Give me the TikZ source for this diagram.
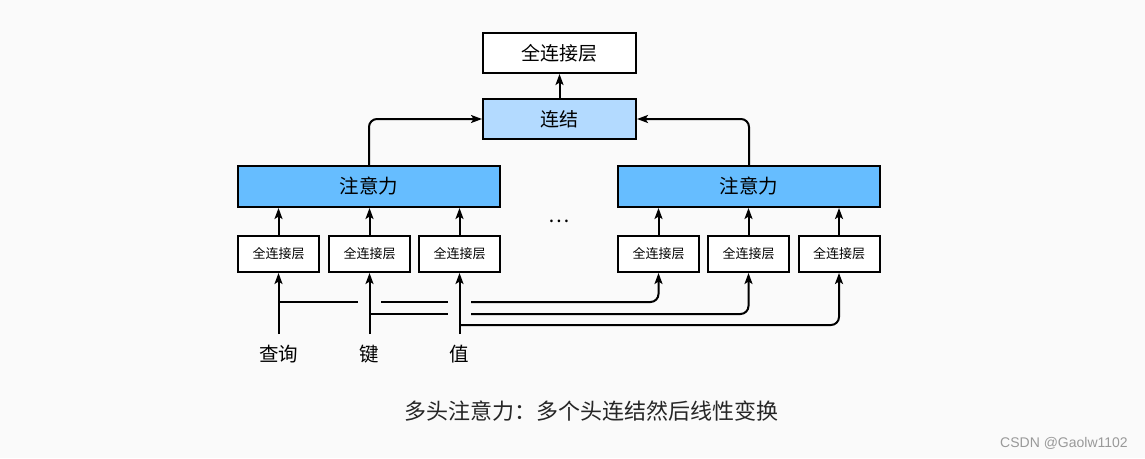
\documentclass[tikz,border=0pt]{standalone}
\usepackage{fontspec}
\setmainfont{Noto Sans CJK SC}
\newfontfamily\wmfont{Liberation Sans}
\usetikzlibrary{arrows.meta}
\definecolor{bgc}{HTML}{FAFAFA}
\definecolor{attc}{HTML}{66BDFF}
\definecolor{catc}{HTML}{B3DAFF}
\begin{document}
\begin{tikzpicture}[x=1pt,y=-1pt,
  box/.style={draw=black,line width=2pt,inner sep=0pt,text=black},
  bigbox/.style={box,minimum width=153pt,minimum height=40pt,font=\fontsize{19}{19}\selectfont},
  attbox/.style={box,fill=attc,minimum width=262pt,minimum height=41pt,font=\fontsize{19.5}{19.5}\selectfont},
  fcbox/.style={box,fill=white,minimum width=81pt,minimum height=36pt,font=\fontsize{13}{13}\selectfont},
  arr/.style={line width=2pt,-{Stealth[length=11pt,width=8pt,inset=2.5pt]}},
  ln/.style={line width=2pt},
  inlabel/.style={inner sep=0pt,font=\fontsize{19.5}{19.5}\selectfont}]
\fill[bgc] (0,0) rectangle (1145,458);
\useasboundingbox (0,0) rectangle (1145,458);
% boxes
\node[bigbox,fill=white] (fc) at (559.5,53) {全连接层};
\node[bigbox,fill=catc] (cat) at (559.5,119) {连结};
\node[attbox] (a1) at (369,186.5) {注意力};
\node[attbox] (a2) at (749,186.5) {注意力};
\node[fcbox] (s1) at (278.5,254) {全连接层};
\node[fcbox] (s2) at (369.5,254) {全连接层};
\node[fcbox] (s3) at (459.5,254) {全连接层};
\node[fcbox] (s4) at (658.5,254) {全连接层};
\node[fcbox] (s5) at (748.5,254) {全连接层};
\node[fcbox] (s6) at (839,254) {全连接层};
\node[inner sep=0pt,font=\fontsize{20}{20}\selectfont] (dots) at (559,221) {\ldots};
% top arrows
\draw[arr] (cat.north) -- (fc.south);
\draw[arr,rounded corners=8pt] (a1.north) |- (cat.west);
\draw[arr,rounded corners=8pt] (a2.north) |- (cat.east);
\foreach \s/\a in {s1/a1,s2/a1,s3/a1,s4/a2,s5/a2,s6/a2}
  \draw[arr] (\s.north) -- (\s.north |- \a.south);
% inputs
\coordinate (q) at (278.5,334);
\coordinate (k) at (369.5,334);
\coordinate (v) at (459.5,334);
\node[inlabel] (lq) at (278.5,354) {查询};
\node[inlabel] (lk) at (369.5,354) {键};
\node[inlabel] (lv) at (459.5,354) {值};
% horizontal branches (with gaps at crossings)
\coordinate (qh) at (278.5,302);
\coordinate (kh) at (369.5,314);
\coordinate (vh) at (459.5,325);
\draw[ln] (qh) -- ([xshift=-11.5pt]k |- qh);
\draw[ln] ([xshift=11.5pt]k |- qh) -- ([xshift=-11.5pt]v |- qh);
\draw[arr,rounded corners=8pt] ([xshift=11.5pt]v |- qh) -| (s4.south);
\draw[ln] (kh) -- ([xshift=-11.5pt]v |- kh);
\draw[arr,rounded corners=8pt] ([xshift=11.5pt]v |- kh) -| (s5.south);
\draw[arr,rounded corners=8pt] (vh) -| (s6.south);
% vertical inputs
\draw[arr] (q) -- (s1.south);
\draw[arr] (k) -- (s2.south);
\draw[arr] (v) -- (s3.south);
% caption
\node[inner sep=0pt,font=\fontsize{22}{22}\selectfont,text=black!85] (cap) at (591,411) {多头注意力：多个头连结然后线性变换};
\node[inner sep=0pt,font=\wmfont\fontsize{14}{14}\selectfont,text=black!40] (wm) at (1064,443) {CSDN @Gaolw1102};
\end{tikzpicture}
\end{document}
